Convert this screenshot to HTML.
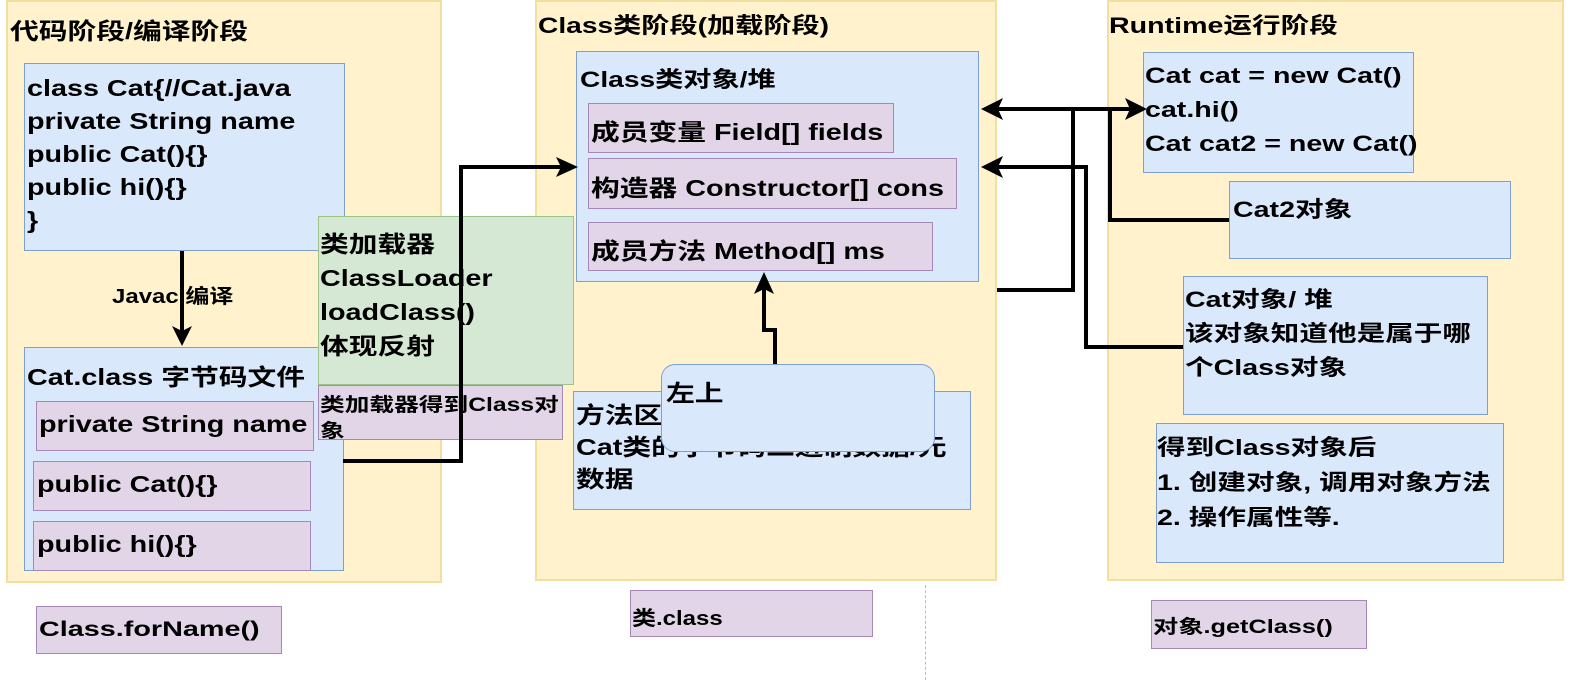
<!DOCTYPE html>
<html><head><meta charset="utf-8"><style>
body{margin:0;width:1577px;height:680px;background:#fff;position:relative;overflow:hidden;font-family:"Liberation Sans","Noto Sans CJK SC",sans-serif;font-weight:bold;color:#000}
.b{position:absolute;box-sizing:border-box}
.y{background:#fff2cc;border:2px solid #f2dfa0}
.bl{background:#dae8fc;border:1.5px solid #7f9fcf}
.p{background:#e1d5e7;border:1.5px solid #a688b8}
.g{background:#d5e8d4;border:1.5px solid #9cc38a}
.t{position:absolute;white-space:nowrap;transform:scaleX(1.25);transform-origin:0 0}
.f22{font-size:23px;line-height:33px}
</style></head><body>
<div class="b y" style="left:6px;top:0;width:436px;height:583px"></div>
<div class="t" style="left:10px;top:12px;font-size:23px">代码阶段/编译阶段</div>
<div class="b y" style="left:535px;top:0;width:462px;height:581px"></div>
<div class="t" style="left:538px;top:8px;font-size:22px;transform:scaleX(1.28)">Class类阶段(加载阶段)</div>
<div class="b y" style="left:1107px;top:0;width:457px;height:581px"></div>
<div class="t" style="left:1109px;top:8px;font-size:22px;transform:scaleX(1.3)">Runtime运行阶段</div>

<div class="b bl" style="left:24px;top:63px;width:321px;height:188px"></div>
<div class="t f22" style="left:27px;top:72px">class Cat{//Cat.java<br>private String name<br>public Cat(){}<br>public hi(){}<br>}</div>
<div class="t" style="left:112px;top:280px;font-size:20px;transform:scaleX(1.2)">Javac 编译</div>

<div class="b bl" style="left:24px;top:347px;width:320px;height:224px"></div>
<div class="t" style="left:27px;top:358px;font-size:23px">Cat.class 字节码文件</div>
<div class="b p" style="left:36px;top:401px;width:278px;height:50px"></div>
<div class="t" style="left:39px;top:411px;font-size:23px">private String name</div>
<div class="b p" style="left:33px;top:461px;width:278px;height:50px"></div>
<div class="t" style="left:37px;top:471px;font-size:23px">public Cat(){}</div>
<div class="b p" style="left:33px;top:521px;width:278px;height:50px"></div>
<div class="t" style="left:37px;top:531px;font-size:23px">public hi(){}</div>

<div class="b g" style="left:318px;top:216px;width:256px;height:169px"></div>
<div class="t f22" style="left:320px;top:227px;line-height:34px">类加载器<br>ClassLoader<br>loadClass()<br>体现反射</div>
<div class="b p" style="left:318px;top:385px;width:245px;height:55px"></div>
<div class="t" style="left:320px;top:393px;font-size:19px;line-height:26px;transform:scaleX(1.3)">类加载器得到Class对<br>象</div>

<div class="b p" style="left:36px;top:606px;width:246px;height:48px"></div>
<div class="t" style="left:39px;top:618px;font-size:21px;transform:scaleX(1.37)">Class.forName()</div>

<div class="b bl" style="left:576px;top:51px;width:403px;height:231px"></div>
<div class="t" style="left:580px;top:62px;font-size:22px;transform:scaleX(1.28)">Class类对象/堆</div>
<div class="b p" style="left:588px;top:103px;width:306px;height:50px"></div>
<div class="t" style="left:591px;top:113px;font-size:23px">成员变量 Field[] fields</div>
<div class="b p" style="left:588px;top:158px;width:369px;height:51px"></div>
<div class="t" style="left:591px;top:169px;font-size:23px">构造器 Constructor[] cons</div>
<div class="b p" style="left:588px;top:222px;width:345px;height:49px"></div>
<div class="t" style="left:591px;top:232px;font-size:23px">成员方法 Method[] ms</div>

<div class="b bl" style="left:573px;top:391px;width:398px;height:119px"></div>
<div class="t f22" style="left:576px;top:399px;line-height:32px">方法区<br>Cat类的字节码二进制数据/元<br>数据</div>
<div class="b bl" style="left:661px;top:364px;width:274px;height:88px;border-radius:14px"></div>
<div class="t" style="left:666px;top:374px;font-size:23px">左上</div>

<div class="b p" style="left:630px;top:590px;width:243px;height:47px"></div>
<div class="t" style="left:632px;top:602px;font-size:20px;transform:scaleX(1.2)">类.class</div>
<div class="b" style="left:925px;top:585px;width:0;height:95px;border-left:1px dashed #bbb"></div>

<div class="b bl" style="left:1143px;top:52px;width:271px;height:121px"></div>
<div class="t" style="left:1145px;top:59px;line-height:34px;font-size:22px;transform:scaleX(1.3)">Cat cat = new Cat()<br>cat.hi()<br>Cat cat2 = new Cat()</div>
<div class="b bl" style="left:1229px;top:181px;width:282px;height:78px"></div>
<div class="t" style="left:1233px;top:192px;font-size:22px;transform:scaleX(1.3)">Cat2对象</div>
<div class="b bl" style="left:1183px;top:276px;width:305px;height:139px"></div>
<div class="t" style="left:1185px;top:283px;font-size:22px;line-height:34px;transform:scaleX(1.3)">Cat对象/ 堆<br>该对象知道他是属于哪<br>个Class对象</div>
<div class="b bl" style="left:1156px;top:423px;width:348px;height:140px"></div>
<div class="t" style="left:1157px;top:430px;font-size:22px;line-height:35px;transform:scaleX(1.3)">得到Class对象后<br>1. 创建对象, 调用对象方法<br>2. 操作属性等.</div>
<div class="b p" style="left:1151px;top:600px;width:216px;height:49px"></div>
<div class="t" style="left:1153px;top:612px;font-size:19px;transform:scaleX(1.33)">对象.getClass()</div>

<svg width="1577" height="680" style="position:absolute;left:0;top:0" fill="none">
<g stroke="#000" stroke-width="4">
<path d="M182 251 V332"/>
<path d="M343 461 H461 V167 H564"/>
<path d="M775 364 V330 H764 V282"/>
<path d="M992 109 H1135"/>
<path d="M1073 109 V290 H997"/>
<path d="M1110 109 V220 H1229"/>
<path d="M992 167 H1086 V347 H1183"/>
</g>
<g fill="#000">
<path d="M182 346 L172 326 L182 331 L192 326Z"/>
<path d="M578 167 L556 157 L561 167 L556 177Z"/>
<path d="M764 272 L754 294 L764 289 L774 294Z"/>
<path d="M981 109 L1003 98 L998 109 L1003 120Z"/>
<path d="M1147 109 L1125 98 L1130 109 L1125 120Z"/>
<path d="M981 167 L1003 156 L998 167 L1003 178Z"/>
</g>
</svg>
</body></html>
